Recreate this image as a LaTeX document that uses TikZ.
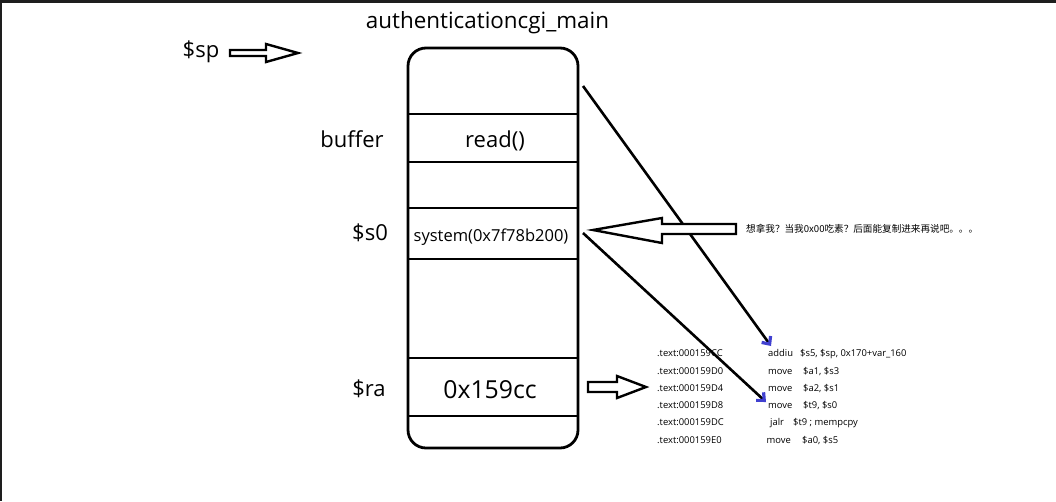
\documentclass[tikz,border=0pt]{standalone}
\usepackage{fontspec}
\setmainfont{Open Sans}
\newfontfamily\cjk{Noto Sans CJK SC}
\usetikzlibrary{arrows.meta}
\definecolor{framegray}{RGB}{30,30,30}
\definecolor{tipblue}{RGB}{64,64,208}
\begin{document}
\begin{tikzpicture}[x=1pt,y=-1pt,
  lbl/.style={inner sep=0pt, anchor=base, font=\fontsize{22}{25}\selectfont},
  code/.style={inner sep=0pt, anchor=base west, font=\fontsize{9.4}{11}\selectfont},
  hollow/.style={draw=black, line width=2.4pt, fill=white, line join=miter},
  ptr/.style={line width=2.6pt, -{Straight Barb[color=tipblue, length=6pt, width=11pt, line width=3.2pt]}},
  frameline/.style={line width=2.8pt}]
\useasboundingbox (0,0) rectangle (1056,501);
\fill[white] (0,0) rectangle (1056,501);
\fill[framegray] (0,0) rectangle (1056,3);
\fill[framegray] (0,0) rectangle (2,501);

% stack frame
\draw[frameline, rounded corners=18pt] (408,48) rectangle (578,448);
\foreach \yy/\nm in {114/l1,162/l2,208/l3,259/l4,358/l5,416/l6}
  \draw[frameline] (408,\yy) coordinate (\nm w) -- (578,\yy) coordinate (\nm e);

% labels
\node[lbl, font=\fontsize{22.4}{25}\selectfont] (title) at (487.5,28.5) {authenticationcgi\_main};
\node[lbl] (sp) at (201,57) {\$sp};
\node[lbl] (buffer) at (352,147) {buffer};
\node[lbl] (read) at (495,147) {read()};
\node[lbl] (s0) at (370,240) {\$s0};
\node[lbl, font=\fontsize{16.5}{19}\selectfont] (system) at (491,241.5) {system(0x7f78b200)};
\node[lbl] (ra) at (369,396) {\$ra};
\node[lbl, font=\fontsize{24.8}{27}\selectfont] (ret) at (490,398) {0x159cc};

% hollow arrows
\draw[hollow] (230,50) -- (266,50) -- (266,44) -- (298,53) -- (266,62) -- (266,56) -- (230,56) -- cycle;
\draw[hollow] (588,382) -- (617,382) -- (617,376) -- (646,387) -- (617,398) -- (617,392) -- (588,392) -- cycle;

% code listing
\foreach \i/\addr in {0/CC,1/D0,2/D4,3/D8,4/DC,5/E0}
  \node[code] (a\i) at (657,{356.7+17.3*\i}) {.text:000159\addr};
\node[code] (o0) at (768,356.7) {addiu};
\node[code] at (800,356.7) {\$s5, \$sp, 0x170+var\_160};
\node[code] (o1) at (768,374) {move};
\node[code] at (803,374) {\$a1, \$s3};
\node[code] (o2) at (768,391.3) {move};
\node[code] at (803,391.3) {\$a2, \$s1};
\node[code] (o3) at (768,408.6) {move};
\node[code] at (803,408.6) {\$t9, \$s0};
\node[code] (o4) at (770,425.9) {jalr};
\node[code] at (793,425.9) {\$t9 ; mempcpy};
\node[code] (o5) at (766.5,443.2) {move};
\node[code] at (802,443.2) {\$a0, \$s5};

% pointer lines
\coordinate (p1s) at (583,86);
\coordinate (p1e) at (771,346);
\coordinate (p2s) at (583,233);
\coordinate (p2e) at (766,402);
\draw[ptr] (p1s) -- (p1e);
\draw[ptr] (p2s) -- (p2e);

% big left arrow
\draw[hollow] (736,224) -- (662,224) -- (662,218) -- (593,230) -- (662,243) -- (662,234) -- (736,234) -- cycle;
\node[inner sep=0pt, anchor=base west, font=\cjk\fontsize{9.6}{11}\selectfont] (note) at (746,232) {想拿我？当我0x00吃素？后面能复制进来再说吧。。。};
\end{tikzpicture}
\end{document}
